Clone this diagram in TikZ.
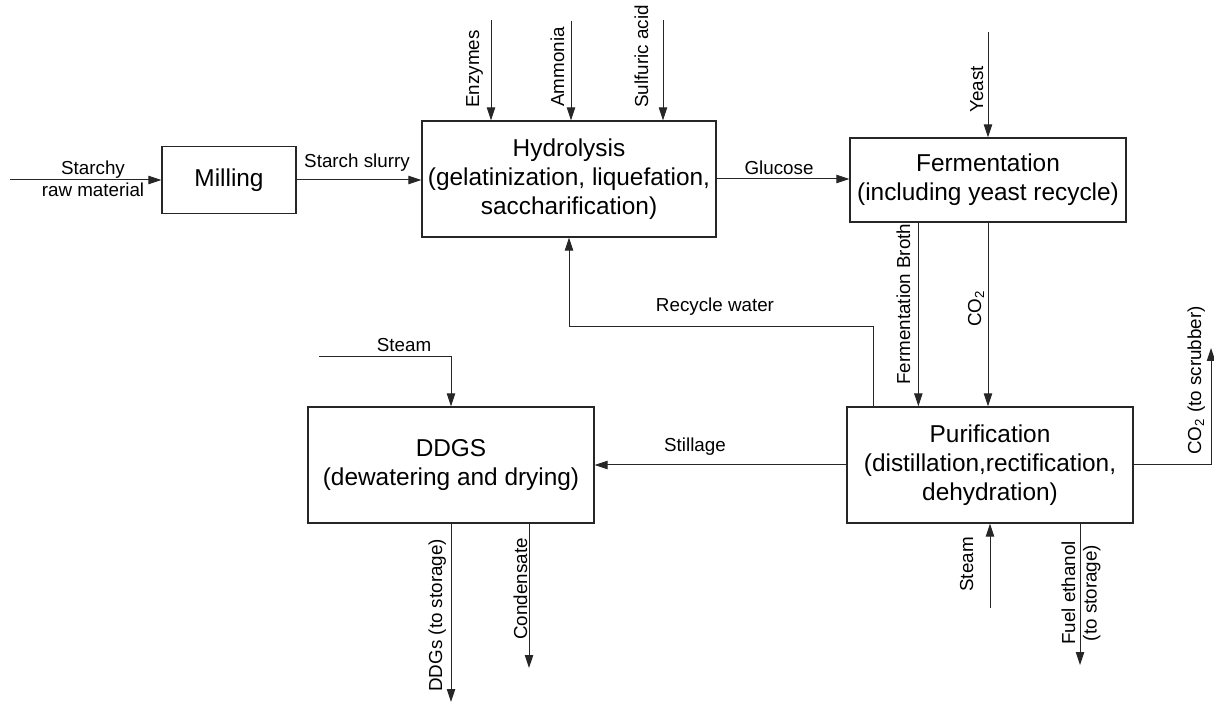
\documentclass[tikz,border=0pt]{standalone}
\usepackage{fontspec}
\setmainfont{Liberation Sans}
\usetikzlibrary{arrows.meta,positioning,calc}
\newcommand\boxfont{\fontsize{12.2}{14.6}\selectfont}
\newcommand\labfont{\fontsize{9.4}{10.8}\selectfont}

\begin{document}
\begin{tikzpicture}[x=0.5pt, y=-0.5pt,
  box/.style={draw=black!85, line width=0.65pt, align=center, font=\boxfont, inner sep=0pt},
  arr/.style={-{Triangle[length=6.5pt, width=4.2pt]}, black!85, line width=0.5pt},
  lab/.style={font=\labfont, align=center, inner sep=0pt},
  vlab/.style={lab, rotate=90, anchor=base west}]
\useasboundingbox (0,0) rectangle (1214,704);
\node[box, minimum width=67pt, minimum height=33.5pt] (mill) at (229,180) {Milling};
\node[box, minimum width=147pt, minimum height=58pt] (hydro) at (569,179) {Hydrolysis\\(gelatinization, liquefation,\\saccharification)};
\node[box, minimum width=138pt, minimum height=42pt] (ferm) at (988,180) {Fermentation\\(including yeast recycle)};
\node[box, minimum width=143pt, minimum height=58pt] (purif) at (990,465) {Purification\\(distillation,rectification,\\dehydration)};
\node[box, minimum width=143pt, minimum height=58pt] (ddgs) at (451,465) {DDGS\\(dewatering and drying)};
\coordinate (rawin) at (10,180);
\coordinate (enz) at (491,20);
\coordinate (amm) at (571,21);
\coordinate (sulf) at (663,20);
\coordinate (yeast) at (988,32);
\coordinate (rw) at (873,327);
\coordinate (scr) at (1211,348);
\coordinate (st1) at (319,357);
\coordinate (ddgout) at (451,702);
\coordinate (cond) at (529,668);
\coordinate (st2) at (990,608);
\coordinate (fuel) at (1080,665);
\draw[arr] (rawin) -- (rawin -| mill.west);
\draw[arr] (mill.east) -- (mill.east -| hydro.west);
\draw[arr] (hydro.east) -- (hydro.east -| ferm.west);
\draw[arr] (enz) -- (enz |- hydro.north);
\draw[arr] (amm) -- (amm |- hydro.north);
\draw[arr] (sulf) -- (sulf |- hydro.north);
\draw[arr] (yeast) -- (ferm.north);
\draw[arr] ($(ferm.south west)+(69,0)$) coordinate (broth) -- (broth |- purif.north);
\draw[arr] (ferm.south) -- (ferm.south |- purif.north);
\draw[arr] (rw |- purif.north) -- (rw) -| (hydro.south);
\draw[arr] (purif.west) -- (ddgs.east);
\draw[arr] (purif.east) -| (scr);
\draw[arr] (st1) -| (ddgs.north);
\draw[arr] (ddgs.south) -- (ddgout);
\draw[arr] (cond |- ddgs.south) -- (cond);
\draw[arr] (st2) -- (st2 |- purif.south);
\draw[arr] (fuel |- purif.south) -- (fuel);
\node[lab] (lraw) at (93,179) {Starchy\\raw material};
\node[lab] (lslurry) at (357,163) {Starch slurry};
\node[lab] (lglu) at (779,168) {Glucose};
\node[lab] (lrw) at (715,307) {Recycle water};
\node[lab] (lstill) at (695,447) {Stillage};
\node[lab] (lst1) at (404,345) {Steam};
\node[vlab] (lenz) at (479,108) {Enzymes};
\node[vlab] (lamm) at (564,107) {Ammonia};
\node[vlab] (lsulf) at (648,108) {Sulfuric acid};
\node[vlab] (lyeast) at (983,113) {Yeast};
\node[vlab] (lbroth) at (910,385) {Fermentation Broth};
\node[vlab] (lco) at (981,327) {CO\textsubscript{2}};
\node[vlab] (lscr) at (1201,455) {CO\textsubscript{2} (to scrubber)};
\node[vlab] (lddg) at (442,692) {DDGs (to storage)};
\node[vlab] (lcond) at (527,640) {Condensate};
\node[vlab] (lst2) at (973,592) {Steam};
\node[lab, rotate=90] (lfuel) at (1081,593) {Fuel ethanol\\(to storage)};
\end{tikzpicture}
\end{document}
